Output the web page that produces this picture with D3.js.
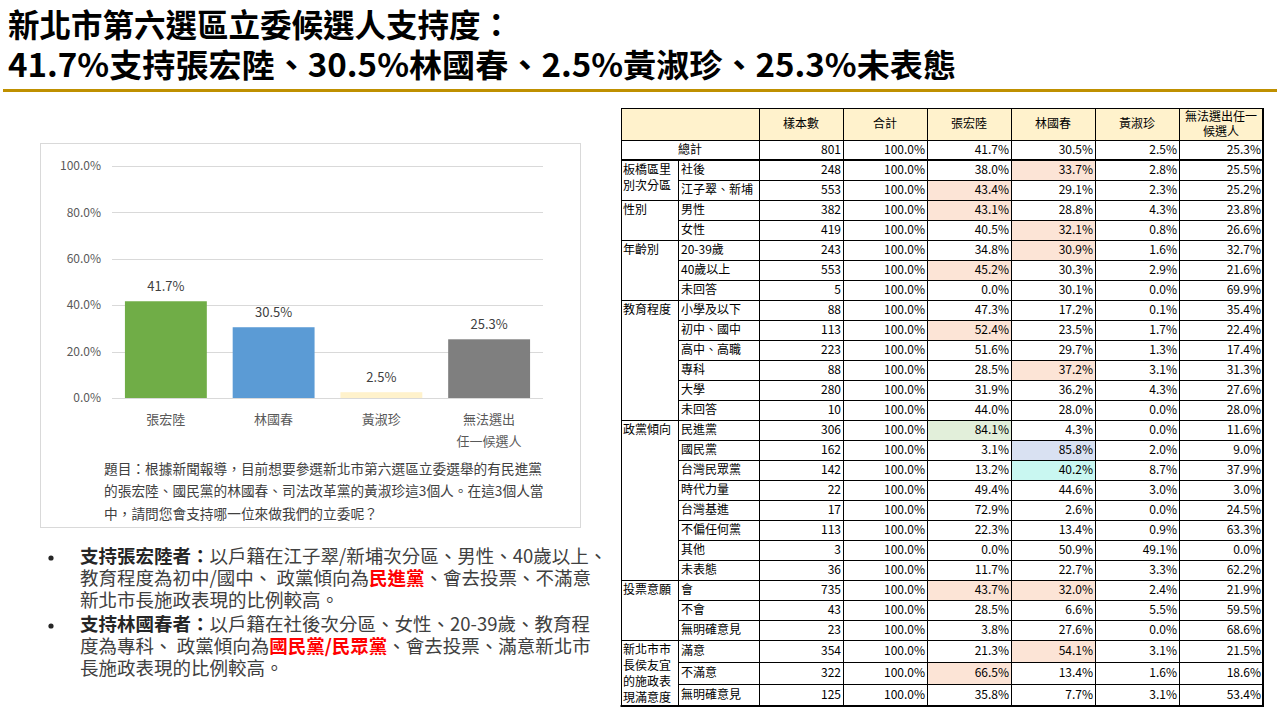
<!DOCTYPE html>
<html><head><meta charset="utf-8">
<script src="https://cdn.jsdelivr.net/npm/d3@7"></script>
<style>
html,body{margin:0;padding:0;background:#fff;}
svg{display:block;font-family:"Noto Sans CJK TC","Noto Sans",sans-serif;}
</style></head><body>
<svg id="c" width="1280" height="720"></svg>
<script>
// ---------- DATA ----------
const titleLines = ["新北市第六選區立委候選人支持度：", "41.7%支持張宏陸、30.5%林國春、2.5%黃淑珍、25.3%未表態"];
const candidates = ["張宏陸", "林國春", "黃淑珍", "無法選出任一候選人"];
const candidateLabelLines = [["張宏陸"], ["林國春"], ["黃淑珍"], ["無法選出", "任一候選人"]];
const support = [41.7, 30.5, 2.5, 25.3];
const barColors = ["#70AD47", "#5B9BD5", "#FFF2CC", "#7F7F7F"];
const yTicks = [0, 20, 40, 60, 80, 100];
const questionLines = [
  "題目：根據新聞報導，目前想要參選新北市第六選區立委選舉的有民進黨",
  "的張宏陸、國民黨的林國春、司法改革黨的黃淑珍這3個人。在這3個人當",
  "中，請問您會支持哪一位來做我們的立委呢？"
];
const bulletLines = [
  [{t: "支持張宏陸者：", s: "b"}, {t: "以戶籍在江子翠/新埔次分區、男性、40歲以上、"}],
  [{t: "教育程度為初中/國中、 政黨傾向為"}, {t: "民進黨", s: "r"}, {t: "、會去投票、不滿意"}],
  [{t: "新北市長施政表現的比例較高。"}],
  [{t: "支持林國春者：", s: "b"}, {t: "以戶籍在社後次分區、女性、20-39歲、教育程"}],
  [{t: "度為專科、 政黨傾向為"}, {t: "國民黨/民眾黨", s: "r"}, {t: "、會去投票、滿意新北市"}],
  [{t: "長施政表現的比例較高。"}]
];

const tableHeaders = ["樣本數", "合計", "張宏陸", "林國春", "黃淑珍", "無法選出任一\n候選人"];
const totalLabel = "總計";
const totalValues = ["801", "100.0%", "41.7%", "30.5%", "2.5%", "25.3%"];
const groupNames = ["板橋區里別次分區", "性別", "年齡別", "教育程度", "政黨傾向", "投票意願", "新北市市長侯友宜的施政表現滿意度"];
const groupSizes = [2, 2, 3, 6, 8, 3, 3];
const subLabels = ["社後", "江子翠、新埔", "男性", "女性", "20-39歲", "40歲以上", "未回答",
  "小學及以下", "初中、國中", "高中、高職", "專科", "大學", "未回答",
  "民進黨", "國民黨", "台灣民眾黨", "時代力量", "台灣基進", "不偏任何黨", "其他", "未表態",
  "會", "不會", "無明確意見", "滿意", "不滿意", "無明確意見"];
const sampleN = [248, 553, 382, 419, 243, 553, 5, 88, 113, 223, 88, 280, 10, 306, 162, 142, 22, 17, 113, 3, 36, 735, 43, 23, 354, 322, 125];
const totalPct = [100, 100, 100, 100, 100, 100, 100, 100, 100, 100, 100, 100, 100, 100, 100, 100, 100, 100, 100, 100, 100, 100, 100, 100, 100, 100, 100];
const zhang = [38.0, 43.4, 43.1, 40.5, 34.8, 45.2, 0.0, 47.3, 52.4, 51.6, 28.5, 31.9, 44.0, 84.1, 3.1, 13.2, 49.4, 72.9, 22.3, 0.0, 11.7, 43.7, 28.5, 3.8, 21.3, 66.5, 35.8];
const lin = [33.7, 29.1, 28.8, 32.1, 30.9, 30.3, 30.1, 17.2, 23.5, 29.7, 37.2, 36.2, 28.0, 4.3, 85.8, 40.2, 44.6, 2.6, 13.4, 50.9, 22.7, 32.0, 6.6, 27.6, 54.1, 13.4, 7.7];
const huang = [2.8, 2.3, 4.3, 0.8, 1.6, 2.9, 0.0, 0.1, 1.7, 1.3, 3.1, 4.3, 0.0, 0.0, 2.0, 8.7, 3.0, 0.0, 0.9, 49.1, 3.3, 2.4, 5.5, 0.0, 3.1, 1.6, 3.1];
const undecided = [25.5, 25.2, 23.8, 26.6, 32.7, 21.6, 69.9, 35.4, 22.4, 17.4, 31.3, 27.6, 28.0, 11.6, 9.0, 37.9, 3.0, 24.5, 63.3, 0.0, 62.2, 21.9, 59.5, 68.6, 21.5, 18.6, 53.4];
// highlighted cells: [row, column name, kind]
const highlights = [[0, "林國春", "p"], [1, "張宏陸", "p"], [2, "張宏陸", "p"], [3, "林國春", "p"], [4, "林國春", "p"], [5, "張宏陸", "p"],
  [8, "張宏陸", "p"], [10, "林國春", "p"], [13, "張宏陸", "g"], [14, "林國春", "l"], [15, "林國春", "c"],
  [21, "張宏陸", "p"], [21, "林國春", "p"], [24, "林國春", "p"], [25, "張宏陸", "p"]];

// ---------- DRAW ----------
const svg = d3.select("#c");

// Title
svg.append("text").attr("x", 8).attr("y", 37).attr("font-size", 32).attr("font-weight", 700)
  .attr("fill", "#000").attr("textLength", 504).attr("lengthAdjust", "spacingAndGlyphs").text(titleLines[0]);
svg.append("text").attr("x", 8).attr("y", 77).attr("font-size", 32).attr("font-weight", 700)
  .attr("fill", "#000").attr("textLength", 948).attr("lengthAdjust", "spacingAndGlyphs").text(titleLines[1]);
svg.append("rect").attr("x", 3).attr("y", 89).attr("width", 1274).attr("height", 3).attr("fill", "#BF9000");

// Chart box
svg.append("rect").attr("x", 40.5).attr("y", 143.5).attr("width", 540).attr("height", 384)
  .attr("fill", "#fff").attr("stroke", "#D9D9D9").attr("stroke-width", 1);

const y = d3.scaleLinear().domain([0, 100]).range([398, 166]);
const x = d3.scaleBand().domain(candidates).range([112, 543]).paddingInner(0.24).paddingOuter(0.12);

const grid = svg.append("g");
grid.selectAll("line").data(yTicks).join("line")
  .attr("x1", 112).attr("x2", 543)
  .attr("y1", d => Math.round(y(d)) + 0.5).attr("y2", d => Math.round(y(d)) + 0.5)
  .attr("stroke", "#D9D9D9").attr("stroke-width", 1);
grid.selectAll("text").data(yTicks).join("text")
  .attr("x", 101).attr("y", d => y(d)).attr("dy", "0.35em")
  .attr("text-anchor", "end").attr("font-size", 12).attr("fill", "#595959")
  .text(d => d3.format(".1f")(d) + "%");

svg.append("g").selectAll("rect").data(support).join("rect")
  .attr("x", (d, i) => x(candidates[i])).attr("width", x.bandwidth())
  .attr("y", d => y(d)).attr("height", d => y(0) - y(d))
  .attr("fill", (d, i) => barColors[i]);

svg.append("g").selectAll("text").data(support).join("text")
  .attr("x", (d, i) => x(candidates[i]) + x.bandwidth() / 2)
  .attr("y", d => y(d) - 10)
  .attr("text-anchor", "middle").attr("font-size", 13).attr("fill", "#404040")
  .text(d => d3.format(".1f")(d) + "%");

const xl = svg.append("g");
candidates.forEach((c, i) => {
  candidateLabelLines[i].forEach((ln, j) => {
    xl.append("text").attr("x", x(c) + x.bandwidth() / 2).attr("y", 419 + j * 22)
      .attr("dy", "0.35em").attr("text-anchor", "middle").attr("font-size", 13).attr("fill", "#595959").text(ln);
  });
});

svg.append("g").selectAll("text").data(questionLines).join("text")
  .attr("x", 104).attr("y", (d, i) => 469 + i * 22.5).attr("dy", "0.35em")
  .attr("font-size", 13.7).attr("fill", "#404040").text(d => d);

// Bullets
const bl = svg.append("g");
const bulletY = [557, 579, 601, 625, 647, 669];
[0, 3].forEach(i => {
  bl.append("circle").attr("cx", 51).attr("cy", bulletY[i] + 1).attr("r", 2.6).attr("fill", "#262626");
});
bulletLines.forEach((parts, i) => {
  const t = bl.append("text").attr("x", 80).attr("y", bulletY[i]).attr("dy", "0.35em").attr("font-size", 18.5).attr("fill", "#404040");
  parts.forEach(p => {
    const s = t.append("tspan").text(p.t);
    if (p.s === "b") s.attr("font-weight", 700).attr("fill", "#262626");
    if (p.s === "r") s.attr("font-weight", 700).attr("fill", "#FF0000");
  });
});

// Table
const tbl = svg.append("g").attr("font-size", 12).attr("fill", "#000");
const valueCols = tableHeaders.map(h => h.replace("\n", ""));
const colX = d3.scaleBand().domain(valueCols).range([759, 1263]);
const L0 = 621, L1 = 678, L2 = 759, R = 1263;
const headerTop = 108, headerBottom = 140, totalBottom = 160;
const rowH = subLabels.map((d, i) => i >= 24 ? 22 : 20);
const rowTop = [];
let acc = totalBottom;
rowH.forEach(h => { rowTop.push(acc); acc += h; });
const tableBottom = acc;

tbl.append("rect").attr("x", L0).attr("y", headerTop).attr("width", R - L0).attr("height", headerBottom - headerTop).attr("fill", "#FFF2CC");

const hlColor = {p: "#FCE4D6", g: "#E2EFDA", l: "#D9E1F2", c: "#C9F7F1"};
tbl.append("g").selectAll("rect").data(highlights).join("rect")
  .attr("x", d => colX(d[1])).attr("width", colX.bandwidth())
  .attr("y", d => rowTop[d[0]]).attr("height", d => rowH[d[0]])
  .attr("fill", d => hlColor[d[2]]);

valueCols.forEach((c, i) => {
  const lines = tableHeaders[i].split("\n");
  lines.forEach((ln, j) => {
    tbl.append("text").attr("x", colX(c) + colX.bandwidth() / 2)
      .attr("y", (headerTop + headerBottom) / 2 + (j - (lines.length - 1) / 2) * 15)
      .attr("dy", "0.35em").attr("text-anchor", "middle").text(ln);
  });
});

tbl.append("text").attr("x", (L0 + L2) / 2).attr("y", (headerBottom + totalBottom) / 2).attr("dy", "0.35em")
  .attr("text-anchor", "middle").text(totalLabel);
valueCols.forEach((c, i) => {
  tbl.append("text").attr("x", colX(c) + colX.bandwidth() - 2).attr("y", (headerBottom + totalBottom) / 2)
    .attr("dy", "0.35em").attr("text-anchor", "end").text(totalValues[i]);
});

const colsData = [sampleN.map(String), totalPct.map(v => v.toFixed(1) + "%"), zhang.map(v => v.toFixed(1) + "%"),
  lin.map(v => v.toFixed(1) + "%"), huang.map(v => v.toFixed(1) + "%"), undecided.map(v => v.toFixed(1) + "%")];
subLabels.forEach((s, r) => {
  const cy = rowTop[r] + rowH[r] / 2;
  tbl.append("text").attr("x", L1 + 3).attr("y", cy).attr("dy", "0.35em").text(s);
  valueCols.forEach((c, k) => {
    tbl.append("text").attr("x", colX(c) + colX.bandwidth() - 2).attr("y", cy).attr("dy", "0.35em")
      .attr("text-anchor", "end").text(colsData[k][r]);
  });
});

let gi = 0;
const groupStart = [];
groupSizes.forEach(sz => { groupStart.push(gi); gi += sz; });
groupNames.forEach((g, k) => {
  const lines = [];
  for (let i = 0; i < g.length; i += 4) lines.push(g.slice(i, i + 4));
  const top = rowTop[groupStart[k]];
  lines.forEach((ln, j) => {
    tbl.append("text").attr("x", L0 + 2).attr("y", top + 10 + j * 16).attr("dy", "0.35em").text(ln);
  });
});

const lines = tbl.append("g").attr("stroke", "#000").attr("stroke-width", 1);
const hl = (x1, x2, yy, w) => lines.append("line").attr("x1", x1).attr("x2", x2).attr("y1", yy).attr("y2", yy).attr("stroke-width", w || 1);
const vl = (xx, y1, y2, w) => lines.append("line").attr("x1", xx).attr("x2", xx).attr("y1", y1).attr("y2", y2).attr("stroke-width", w || 1);
hl(L0, R, headerTop + 0.5);
hl(L0, R, headerBottom + 0.5);
hl(L0, R, totalBottom, 2);
const groupBoundaries = new Set(groupStart);
rowTop.forEach((t, r) => {
  if (r === 0) return;
  if (groupBoundaries.has(r)) hl(L0, R, t + 0.5); else hl(L1, R, t + 0.5);
});
hl(L0 - 0.5, R + 1, tableBottom, 2);
vl(L0 + 0.5, headerTop, tableBottom);
vl(L1 + 0.5, totalBottom, tableBottom);
valueCols.forEach(c => vl(Math.round(colX(c)) + 0.5, headerTop, tableBottom));
vl(R, headerTop, tableBottom + 1, 2);
</script>
</body></html>
